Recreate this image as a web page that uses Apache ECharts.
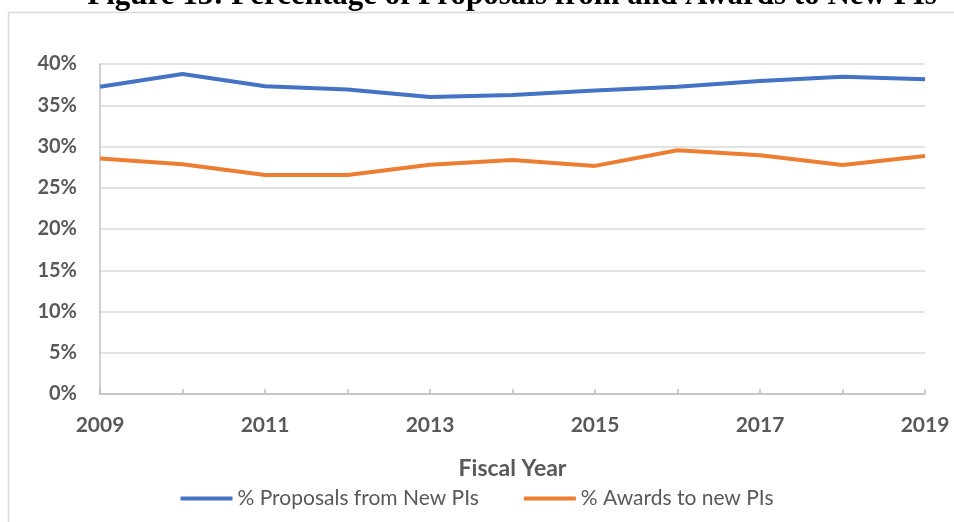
<!DOCTYPE html>
<html>
<head>
<meta charset="utf-8">
<script src="https://cdn.jsdelivr.net/npm/echarts@6/dist/echarts.min.js"></script>
<style>
  html, body { margin: 0; padding: 0; background: #fff; }
  #chart { width: 954px; height: 522px; }
</style>
</head>
<body>
<div id="chart"></div>
<script>
// Fiscal years on the category axis
const years = ['2009', '2010', '2011', '2012', '2013', '2014', '2015', '2016', '2017', '2018', '2019'];

// Share of proposals submitted by new principal investigators (%)
const proposalsNewPIs = [37.25, 38.8, 37.3, 36.9, 36.0, 36.25, 36.8, 37.25, 37.95, 38.45, 38.15];

// Share of awards made to new principal investigators (%)
const awardsNewPIs = [28.55, 27.85, 26.55, 26.55, 27.8, 28.35, 27.65, 29.55, 28.95, 27.75, 28.85];

const seriesNames = ['% Proposals from New PIs', '% Awards to new PIs'];
const titleText = 'Figure 13: Percentage of Proposals from and Awards to New PIs';

const textGrey = '#595959';
const uiFont = 'Lato, "Open Sans", sans-serif';

const chart = echarts.init(document.getElementById('chart'));

chart.setOption({
  backgroundColor: '#ffffff',
  animation: false,
  graphic: [
    {
      type: 'rect',
      shape: { x: 8.5, y: 12.5, width: 1000, height: 600 },
      style: { fill: 'none', stroke: '#D9D9D9', lineWidth: 1.5 },
      z: 0
    },
    {
      type: 'text',
      x: 512,
      y: -4,
      style: {
        text: titleText,
        font: 'bold 31px "Liberation Serif", "Times New Roman", serif',
        fill: '#000000',
        textAlign: 'center',
        textVerticalAlign: 'middle'
      },
      z: 10
    }
  ],
  grid: { left: 100, right: 29, top: 64, bottom: 128, containLabel: false },
  legend: {
    top: 483,
    left: 'center',
    icon: 'rect',
    itemWidth: 52,
    itemHeight: 4,
    itemGap: 45,
    textStyle: { color: textGrey, fontFamily: uiFont, fontSize: 21 },
    data: seriesNames
  },
  xAxis: {
    type: 'category',
    data: years,
    boundaryGap: false,
    name: 'Fiscal Year',
    nameLocation: 'middle',
    nameGap: 63,
    nameTextStyle: { color: textGrey, fontFamily: uiFont, fontSize: 23, fontWeight: 'bold' },
    axisLine: { show: true, lineStyle: { color: '#BFBFBF', width: 1.5 } },
    axisTick: { show: true, inside: true, length: 5, interval: 0, lineStyle: { color: '#BFBFBF', width: 1.5 } },
    axisLabel: { interval: 1, margin: 21, color: textGrey, fontFamily: uiFont, fontSize: 21, fontWeight: 'bold' },
    splitLine: { show: false }
  },
  yAxis: {
    type: 'value',
    min: 0,
    max: 40,
    interval: 5,
    axisLine: { show: true, lineStyle: { color: '#BFBFBF', width: 1.5 } },
    axisTick: { show: false },
    axisLabel: { formatter: '{value}%', margin: 23, color: textGrey, fontFamily: uiFont, fontSize: 20, fontWeight: 'bold' },
    splitLine: { show: true, lineStyle: { color: '#D9D9D9', width: 1.5 } }
  },
  series: [
    {
      name: seriesNames[0],
      type: 'line',
      data: proposalsNewPIs,
      symbol: 'none',
      color: '#4472C4',
      lineStyle: { color: '#4472C4', width: 4 }
    },
    {
      name: seriesNames[1],
      type: 'line',
      data: awardsNewPIs,
      symbol: 'none',
      color: '#ED7D31',
      lineStyle: { color: '#ED7D31', width: 4 }
    }
  ]
});
</script>
</body>
</html>
